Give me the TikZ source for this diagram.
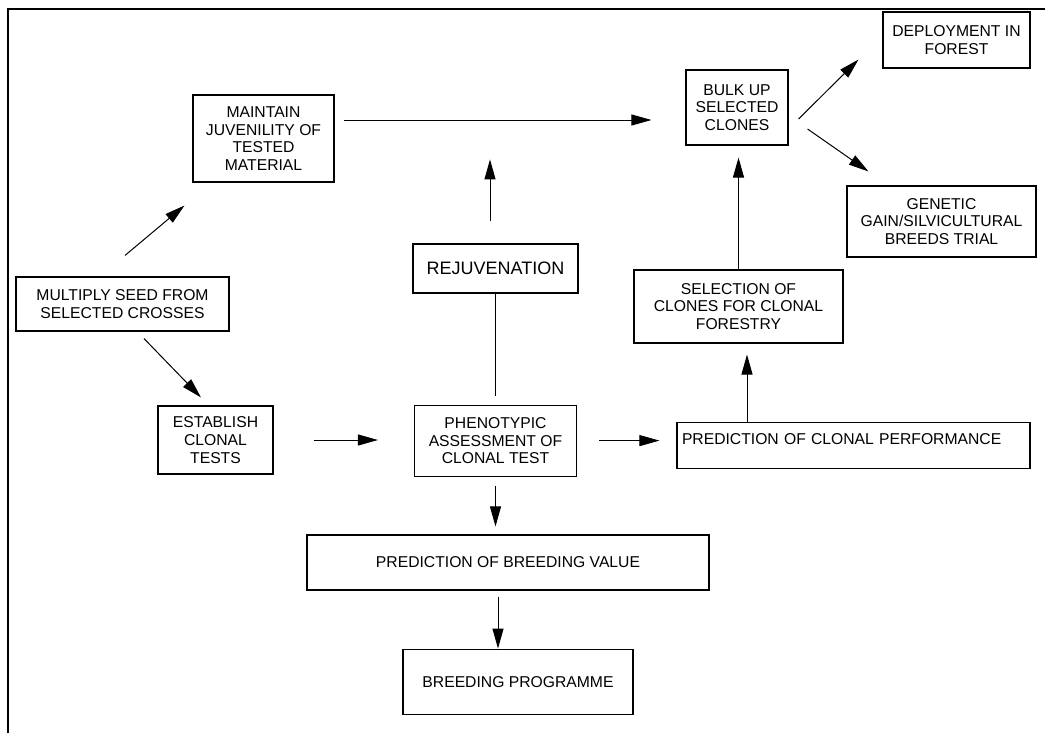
\documentclass[tikz,border=0pt]{standalone}
\usepackage{fontspec}
\setmainfont{Liberation Sans}
\usepackage{tikz}
\usetikzlibrary{arrows.meta,positioning,calc}
\tikzset{
  box/.style={draw, line width=1.1pt, align=center, inner sep=0pt, font=\fontsize{15.7}{17.8}\selectfont},
  bigbox/.style={box, font=\fontsize{18}{20}\selectfont},
  line/.style={-{Triangle[length=20pt, width=11pt]}, line width=1pt},
  link/.style={line width=1pt}
}

\begin{document}
\begin{tikzpicture}[x=1pt, y=-1pt]
  \useasboundingbox (0,0) rectangle (1048,733);
  \draw[line width=2pt] (8,733) -- (8,9) -- (1045,9);
  % left side
  \node[box, minimum width=213pt, minimum height=54pt] (multiply) at (122.5,304) {MULTIPLY SEED FROM\\SELECTED CROSSES};
  \node[box, minimum width=141pt, minimum height=87pt] (maintain) at (263.5,138.5) {MAINTAIN\\JUVENILITY OF\\TESTED\\MATERIAL};
  \node[box, minimum width=115pt, minimum height=68pt] (establish) at (215.5,440) {ESTABLISH\\CLONAL\\TESTS};
  % middle column
  \node[bigbox, minimum width=165pt, minimum height=49pt] (rejuv) at (495.5,268.5) {REJUVENATION};
  \node[box, minimum width=162pt, minimum height=71pt, below=111pt of rejuv] (pheno) {PHENOTYPIC\\ASSESSMENT OF\\CLONAL TEST};
  \node[box, minimum width=402pt, minimum height=55pt] (predbv) at (508,562.5) {PREDICTION OF BREEDING VALUE};
  \node[box, minimum width=230pt, minimum height=65pt, below=58pt of predbv, xshift=10pt] (breeding) {BREEDING PROGRAMME};
  % right side
  \node[box, minimum width=102pt, minimum height=75pt] (bulk) at (737,107.5) {BULK UP\\SELECTED\\CLONES};
  \node[box, minimum width=147pt, minimum height=56pt] (deploy) at (956.5,40) {DEPLOYMENT IN\\FOREST};
  \node[box, minimum width=189pt, minimum height=71pt] (genetic) at (941.5,221.5) {GENETIC\\GAIN/SILVICULTURAL\\BREEDS TRIAL};
  \node[box, minimum width=209pt, minimum height=73pt] (select) at (738.5,306.5) {SELECTION OF\\CLONES FOR CLONAL\\FORESTRY};
  \node[box, minimum width=353pt, text height=21.5pt, text depth=24.5pt, text width=343pt, align=left, inner xsep=5pt] (predcl) at (853.5,445.5) {PREDICTION OF CLONAL PERFORMANCE};

  \draw[line] ([shift={(2.5,-21)}]multiply.north) -- ([shift={(-8,23)}]maintain.south west);
  \draw[line] ([shift={(21.5,7)}]multiply.south) -- ([shift={(-14.5,-8)}]establish.north);
  \draw[line, shorten <=40pt, shorten >=36pt] (establish.east) -- (establish.east -| pheno.west);
  \draw[line] ([shift={(9,-18.5)}]maintain.east) -- ([shift={(-34,12.5)}]bulk.west);
  \draw[link, shorten >=9pt] (rejuv.south) -- (pheno.north);
  \draw[line] ([shift={(-5.5,-22)}]rejuv.north) -- ([shift={(-5.5,-84)}]rejuv.north);
  \draw[line, shorten <=22pt, shorten >=17pt] (pheno.east) -- (pheno.east -| predcl.west);
  \coordinate (pc) at ([xshift=-106.5pt]predcl.north);
  \draw[line, shorten >=11pt] (pc) -- (pc |- select.south);
  \draw[line, shorten >=12pt] (select.north) -- (select.north |- bulk.south);
  \draw[line] ([shift={(10,11.5)}]bulk.east) -- ([shift={(-24,-9)}]deploy.south west);
  \draw[line] ([shift={(19,21.5)}]bulk.east) -- ([shift={(22,-14)}]genetic.north west);
  \draw[line, shorten <=9pt, shorten >=8pt] (pheno.south) -- (pheno.south |- predbv.north);
  \draw[line, shorten <=6pt] ([xshift=-10pt]predbv.south) -- ([xshift=-20pt]breeding.north);
\end{tikzpicture}
\end{document}
